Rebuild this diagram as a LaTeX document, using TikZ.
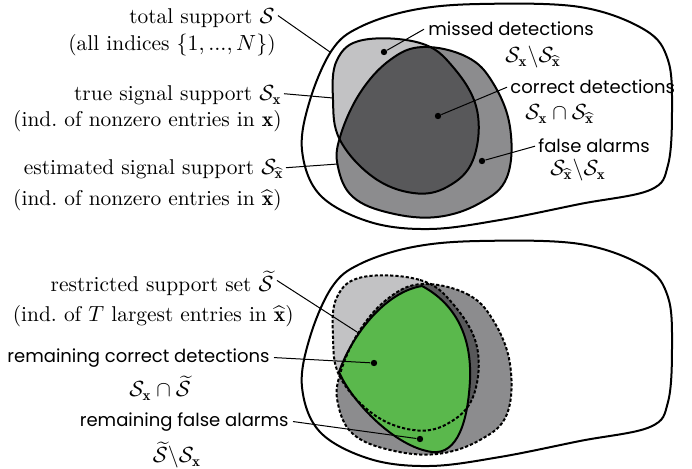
\documentclass[tikz,border=0pt]{standalone}
\usepackage{amsmath,amssymb}
\usepackage{fontspec}
\newfontfamily\gothic{Poppins}
\definecolor{lightset}{HTML}{C2C2C4}
\definecolor{midset}{HTML}{8C8C8E}
\definecolor{darkset}{HTML}{58585A}
\definecolor{greenset}{HTML}{5AB84C}
\newcommand{\Sx}{\mathcal{S}_{\mathbf{x}}}
\newcommand{\Sxh}{\mathcal{S}_{\widehat{\mathbf{x}}}}
\newcommand{\St}{\widetilde{\mathcal{S}}}
% closed outlines of the sets
\newcommand{\outerpath}{plot[smooth cycle, tension=0.6] coordinates {(332,50) (360,27) (413,10) (480,4) (580,7) (645,30) (668,60) (672,110) (668,165) (650,190) (580,204) (500,220) (430,229) (370,222) (320,195) (302,150) (310,100)}}
\newcommand{\truepath}{plot[smooth cycle, tension=0.65] coordinates {(363,40) (420,43) (453,67) (477,110) (473,160) (447,187) (413,193) (373,177) (340,140) (333,100) (337,60)}}
\newcommand{\estpath}{plot[smooth cycle, tension=0.65] coordinates {(423,47) (467,57) (493,83) (510,127) (507,177) (480,203) (437,217) (390,213) (353,197) (338,167) (340,137) (360,93) (390,60)}}
\newcommand{\restrpath}{(422,286) .. controls (385,292) and (352,335) .. (339,372)
  .. controls (352,402) and (395,447) .. (432,452)
  .. controls (458,455) and (468,420) .. (470,380)
  .. controls (472,332) and (452,302) .. cycle}
\tikzset{
  setline/.style={line width=1pt},
  dashline/.style={line width=1pt, dash pattern=on 1.6pt off 1pt},
  leader/.style={line width=0.5pt},
  dot/.style={circle, fill=black, inner sep=0pt, minimum size=3.2pt},
  serif/.style={font=\fontsize{10.7}{13}\selectfont, inner sep=0pt},
  sans/.style={font=\gothic\fontsize{9}{11}\selectfont, inner sep=0pt},
  mathlbl/.style={font=\fontsize{10.7}{13}\selectfont, inner sep=0pt},
}
\begin{document}
\begin{tikzpicture}[x=0.5pt, y=-0.5pt]
\useasboundingbox (0,0) rectangle (692,469);

% ---------- upper diagram: supports and detections ----------
\draw[setline] \outerpath;
\fill[lightset] \truepath;
\fill[midset] \estpath;
\begin{scope}
  \clip \truepath;
  \fill[darkset] \estpath;
\end{scope}
\draw[setline] \truepath;
\draw[setline] \estpath;

\node[dot] (dmiss) at (384,52) {};
\node[dot] (dcorr) at (438,116) {};
\node[dot] (dfalse) at (482,161) {};
\coordinate (ctotal) at (330,52);
\coordinate (ctrue) at (333,98);
\coordinate (cest) at (338,164);

\node[serif, anchor=base east] (ntotal) at (275,24) {total support $\mathcal{S}$};
\node[serif, anchor=base east] (ntotalb) at (276,51) {(all indices $\{1,...,N\}$)};
\node[serif, anchor=base east] (ntrue) at (282,101) {true signal support $\Sx$};
\node[serif, anchor=base east] (ntrueb) at (282,127) {(ind.\ of nonzero entries in $\mathbf{x}$)};
\node[serif, anchor=base east] (nest) at (284,175) {estimated signal support $\Sxh$};
\node[serif, anchor=base east] (nestb) at (282,206) {(ind.\ of nonzero entries in $\widehat{\mathbf{x}}$)};

\node[sans, anchor=base west] (nmiss) at (428,36) {missed detections};
\node[mathlbl, anchor=base west] (mmiss) at (505,63) {$\Sx\backslash\Sxh$};
\node[sans, anchor=base west] (ncorr) at (510,94) {correct detections};
\node[mathlbl, anchor=base west] (mcorr) at (525,120) {$\Sx\cap\Sxh$};
\node[sans, anchor=base west] (nfalse) at (538,153) {false alarms};
\node[mathlbl, anchor=base west] (mfalse) at (550,176) {$\Sxh\backslash\Sx$};

\draw[leader] (ntotal.east) ++(3,-3) coordinate (stotal) -- (ctotal);
\draw[leader] (ntrue.east) ++(2,-2) coordinate (strue) -- (ctrue);
\draw[leader] (nest.east) ++(2,-2) coordinate (sest) -- (cest);
\draw[leader] (nmiss.west) ++(-4,0) coordinate (smiss) -- (dmiss);
\draw[leader] (ncorr.west) ++(-3,0) coordinate (scorr) -- (dcorr);
\draw[leader] (nfalse.west) ++(-3,0) coordinate (sfalse) -- (dfalse);

% ---------- lower diagram: restricted support ----------
\begin{scope}[yshift=-237*0.5pt]
  \draw[setline] \outerpath;
  \fill[lightset] \truepath;
  \fill[midset] \estpath;
  \begin{scope}
    \clip \truepath;
    \fill[darkset] \estpath;
  \end{scope}
\end{scope}
% restricted support set
\fill[greenset] \restrpath;
\begin{scope}[yshift=-237*0.5pt]
  \draw[dashline] \truepath;
  \draw[dashline] \estpath;
\end{scope}
\draw[setline, line join=round] \restrpath;

\node[dot] (drcorr) at (374,363) {};
\node[dot] (drfalse) at (420,439) {};
\coordinate (crestr) at (357,332);

\node[serif, anchor=base east] (nrestr) at (274,292) {restricted support set $\St$};
\node[serif, anchor=base east] (nrestrb) at (294,322) {(ind.\ of $T$ largest entries in $\widehat{\mathbf{x}}$)};
\node[sans, anchor=base east] (nrcorr) at (270,363) {remaining correct detections};
\node[mathlbl] (mrcorr) at (160,388) {$\Sx\cap\St$};
\node[sans, anchor=base east] (nrfalse) at (289,427) {remaining false alarms};
\node[mathlbl] (mrfalse) at (177,455) {$\St\backslash\Sx$};

\draw[leader] (nrestr.east) ++(3,-3) coordinate (srestr) -- (crestr);
\draw[leader] (nrcorr.east) ++(4,-1) coordinate (srcorr) -- (drcorr);
\draw[leader] (nrfalse.east) ++(4,-1) coordinate (srfalse) -- (drfalse);
\end{tikzpicture}
\end{document}
